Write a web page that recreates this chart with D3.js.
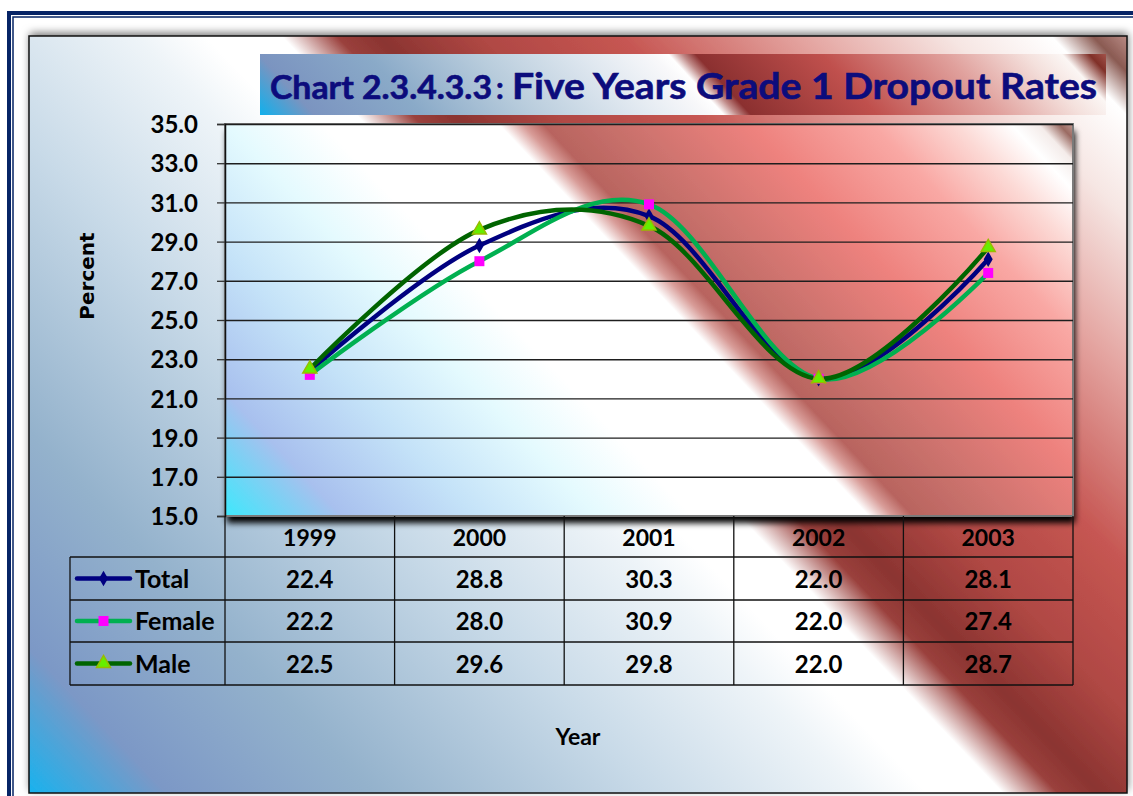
<!DOCTYPE html>
<html>
<head>
<meta charset="utf-8">
<script src="https://cdn.jsdelivr.net/npm/d3@7"></script>
<style>
  html, body { margin: 0; padding: 0; background: #ffffff; overflow: hidden; }
  svg { display: block; }
</style>
</head>
<body>
<svg id="chart" width="1133" height="796"></svg>
<script>
// ---- data ----
const years = ["1999", "2000", "2001", "2002", "2003"];
const totalValues = [22.4, 28.8, 30.3, 22.0, 28.1];
const femaleValues = [22.2, 28.0, 30.9, 22.0, 27.4];
const maleValues = [22.5, 29.6, 29.8, 22.0, 28.7];
const seriesNames = ["Total", "Female", "Male"];
const yTickValues = [15, 17, 19, 21, 23, 25, 27, 29, 31, 33, 35];
const titleMain = "Chart 2.3.4.3.3";
const titleSub = "Five Years Grade 1 Dropout Rates";
const yAxisTitle = "Percent";
const xAxisTitle = "Year";

const series = [
  { name: seriesNames[0], values: totalValues, color: "#000080", symbol: d3.symbolDiamond, size: 70, fill: "#000080", stroke: "none" },
  { name: seriesNames[1], values: femaleValues, color: "#00b050", symbol: d3.symbolSquare, size: 100, fill: "#ff00ff", stroke: "none" },
  { name: seriesNames[2], values: maleValues, color: "#006400", symbol: d3.symbolTriangle, size: 85, fill: "#66ee00", stroke: "#99bb00" }
];

// ---- layout ----
const svg = d3.select("#chart");
const chartBox = { x: 29, y: 36, w: 1098, h: 757 };
const plot = { left: 225, right: 1073, top: 124, bottom: 516 };
const rowY = [516, 557, 600, 642, 685];
const legendLeft = 70;
const titleBox = { x: 260, y: 54, w: 846, h: 61 };

const x = d3.scalePoint().domain(years).range([plot.left, plot.right]).padding(0.5);
const y = d3.scaleLinear().domain([15, 35]).range([plot.bottom, plot.top]);
const colW = x.step();

const defs = svg.append("defs");

function linGrad(id, ax, ay, dx, dy, L, stops) {
  const g = defs.append("linearGradient").attr("id", id)
    .attr("gradientUnits", "userSpaceOnUse")
    .attr("x1", ax).attr("y1", ay)
    .attr("x2", ax + dx * L).attr("y2", ay + dy * L);
  stops.forEach(s => g.append("stop").attr("offset", s[0] / L).attr("stop-color", s[1]));
}

// chart area background gradient
linGrad("bgGrad", chartBox.x, chartBox.y + chartBox.h, 0.724, -0.69, 1317, [
  [0, "#18b2ee"], [100, "#7c98c6"], [250, "#94b2cc"], [450, "#c8dae8"],
  [600, "#eef4f8"], [650, "#ffffff"], [705, "#ffffff"], [745, "#9a403c"],
  [775, "#8b3431"], [850, "#b04844"], [950, "#c65652"], [1080, "#e4a4a0"],
  [1190, "#f6e6e3"], [1262, "#ffffff"], [1292, "#8a5a52"], [1317, "#b88a84"]
]);

// plot area gradient
linGrad("plotGrad", plot.left, plot.bottom, 0.727, -0.687, 885, [
  [0, "#3ee8fc"], [85, "#a8c0ee"], [180, "#c4e2f8"], [270, "#e4fafe"],
  [340, "#ffffff"], [468, "#ffffff"], [485, "#d89c98"], [500, "#b8645f"],
  [550, "#c8706b"], [650, "#ee827e"], [740, "#f9a8a4"], [800, "#fcdad6"],
  [840, "#ffffff"], [860, "#f4ecea"], [875, "#9a6a62"], [885, "#c09890"]
]);

// title box gradient
linGrad("titleGrad", titleBox.x, titleBox.y + titleBox.h, 0.737, -0.676, 664, [
  [0, "#10b0ec"], [40, "#7b94c0"], [120, "#8aaac8"], [200, "#b8ccdc"],
  [280, "#e0e8f0"], [330, "#f8f8fa"], [342, "#ffffff"], [352, "#c08a88"],
  [362, "#8b3030"], [455, "#c0504d"], [545, "#e0a09c"], [605, "#f4e0dc"],
  [632, "#fbf6f4"], [652, "#803028"], [664, "#a05048"]
]);

// shadows
const f1 = defs.append("filter").attr("id", "chartShadow")
  .attr("x", "-5%").attr("y", "-5%").attr("width", "110%").attr("height", "110%");
f1.append("feDropShadow").attr("dx", 1).attr("dy", -3).attr("stdDeviation", 4)
  .attr("flood-color", "#000").attr("flood-opacity", 0.55);

const f2 = defs.append("filter").attr("id", "plotShadow")
  .attr("x", "-5%").attr("y", "-5%").attr("width", "110%").attr("height", "115%");
f2.append("feDropShadow").attr("dx", 2).attr("dy", 7).attr("stdDeviation", 3)
  .attr("flood-color", "#000").attr("flood-opacity", 1);

// page double border
svg.append("rect").attr("x", 9).attr("y", 13).attr("width", 1300).attr("height", 1000)
  .attr("fill", "none").attr("stroke", "#062466").attr("stroke-width", 4);
svg.append("rect").attr("x", 13).attr("y", 17).attr("width", 1300).attr("height", 1000)
  .attr("fill", "none").attr("stroke", "#062466").attr("stroke-width", 1.5);

// chart area
svg.append("rect").attr("x", chartBox.x).attr("y", chartBox.y)
  .attr("width", chartBox.w).attr("height", chartBox.h)
  .attr("fill", "url(#bgGrad)").attr("filter", "url(#chartShadow)");
svg.append("rect").attr("x", chartBox.x).attr("y", chartBox.y)
  .attr("width", chartBox.w).attr("height", chartBox.h)
  .attr("fill", "none").attr("stroke", "#111").attr("stroke-width", 1.5);

// title box
svg.append("rect").attr("x", titleBox.x).attr("y", titleBox.y)
  .attr("width", titleBox.w).attr("height", titleBox.h).attr("fill", "url(#titleGrad)");
const titleText = svg.append("text").attr("y", 99)
  .attr("font-family", "Lato, 'Open Sans', sans-serif").attr("font-weight", "bold")
  .attr("fill", "#0c0c7c").attr("stroke", "#0c0c7c").attr("stroke-width", 0.6);
titleText.append("tspan").attr("x", 270).attr("font-size", 32)
  .attr("textLength", 222).attr("lengthAdjust", "spacingAndGlyphs").text(titleMain);
titleText.append("tspan").attr("x", 496).attr("font-size", 30).text(":");
titleText.append("tspan").attr("x", 512).attr("font-size", 36)
  .attr("textLength", 585).attr("lengthAdjust", "spacingAndGlyphs").text(titleSub);

// plot area
svg.append("rect").attr("x", plot.left).attr("y", plot.top)
  .attr("width", plot.right - plot.left).attr("height", plot.bottom - plot.top)
  .attr("fill", "url(#plotGrad)").attr("filter", "url(#plotShadow)");
svg.append("rect").attr("x", plot.left).attr("y", plot.top)
  .attr("width", plot.right - plot.left).attr("height", plot.bottom - plot.top)
  .attr("fill", "none").attr("stroke", "#7a7a7a").attr("stroke-width", 2);

// gridlines
const grid = svg.append("g").attr("transform", `translate(${plot.left},0)`)
  .call(d3.axisLeft(y).tickValues(yTickValues.slice(1)).tickSize(-(plot.right - plot.left)).tickFormat(""));
grid.select(".domain").remove();
grid.selectAll(".tick line").attr("stroke", "#1e1e1e").attr("stroke-width", 1.4);

// y axis
const yAxis = svg.append("g").attr("transform", `translate(${plot.left},0)`)
  .call(d3.axisLeft(y).tickValues(yTickValues).tickSize(8).tickPadding(19).tickFormat(d3.format(".1f")));
yAxis.select(".domain").attr("stroke", "#111").attr("stroke-width", 1.5);
yAxis.selectAll(".tick line").attr("stroke", "#333").attr("stroke-width", 1.3);
yAxis.selectAll(".tick text").attr("font-family", "Lato, sans-serif").attr("font-weight", "bold")
  .attr("font-size", 24).attr("fill", "#000").attr("dy", "0.36em");

// lines
const line = d3.line()
  .x((d, i) => x(years[i]))
  .y(d => y(d))
  .curve(d3.curveCardinal.tension(0));

const linesG = svg.append("g");
series.forEach(s => {
  linesG.append("path").attr("d", line(s.values))
    .attr("fill", "none").attr("stroke", s.color).attr("stroke-width", 4.5)
    .attr("stroke-linecap", "round").attr("stroke-linejoin", "round");
});
series.forEach(s => {
  linesG.selectAll(null).data(s.values).enter().append("path")
    .attr("d", d3.symbol().type(s.symbol).size(s.size))
    .attr("transform", (d, i) => `translate(${x(years[i])},${y(d)})`)
    .attr("fill", s.fill).attr("stroke", s.stroke).attr("stroke-width", 1.5);
});

// data table
const table = svg.append("g");
const tcol = "#111";
years.forEach((yr, i) => {
  table.append("line").attr("x1", plot.left + (i + 1) * colW).attr("x2", plot.left + (i + 1) * colW)
    .attr("y1", rowY[0]).attr("y2", rowY[4]).attr("stroke", tcol).attr("stroke-width", 1.3);
});
table.append("line").attr("x1", plot.left).attr("x2", plot.left)
  .attr("y1", rowY[0]).attr("y2", rowY[4]).attr("stroke", tcol).attr("stroke-width", 1.3);
table.append("line").attr("x1", legendLeft).attr("x2", legendLeft)
  .attr("y1", rowY[1]).attr("y2", rowY[4]).attr("stroke", tcol).attr("stroke-width", 1.3);
[1, 2, 3, 4].forEach(r => {
  table.append("line").attr("x1", legendLeft).attr("x2", plot.right)
    .attr("y1", rowY[r]).attr("y2", rowY[r]).attr("stroke", tcol).attr("stroke-width", 1.3);
});

const cellFont = { family: "Lato, sans-serif", size: 24 };
table.selectAll(null).data(years).enter().append("text")
  .attr("x", d => x(d)).attr("y", (rowY[0] + rowY[1]) / 2 + 9)
  .attr("text-anchor", "middle").attr("font-family", cellFont.family)
  .attr("font-weight", "bold").attr("font-size", 23).attr("fill", "#000")
  .text(d => d);

series.forEach((s, r) => {
  const cy = (rowY[r + 1] + rowY[r + 2]) / 2;
  table.selectAll(null).data(s.values).enter().append("text")
    .attr("x", (d, i) => x(years[i])).attr("y", cy + 9)
    .attr("text-anchor", "middle").attr("font-family", cellFont.family)
    .attr("font-weight", "bold").attr("font-size", cellFont.size).attr("fill", "#000")
    .text(d => d3.format(".1f")(d));
  table.append("line").attr("x1", 77).attr("x2", 130).attr("y1", cy).attr("y2", cy)
    .attr("stroke", s.color).attr("stroke-width", 4.5).attr("stroke-linecap", "round");
  table.append("path").attr("d", d3.symbol().type(s.symbol).size(s.size)())
    .attr("transform", `translate(103.5,${cy})`)
    .attr("fill", s.fill).attr("stroke", s.stroke).attr("stroke-width", 1.5);
  table.append("text").attr("x", 135).attr("y", cy + 9)
    .attr("font-family", cellFont.family).attr("font-weight", "bold")
    .attr("font-size", 25).attr("fill", "#000").text(s.name);
});

// axis titles
svg.append("text").attr("transform", "translate(94,276) rotate(-90)")
  .attr("text-anchor", "middle").attr("font-family", "'DejaVu Sans', sans-serif")
  .attr("font-weight", "bold").attr("font-size", 20).attr("fill", "#000").text(yAxisTitle);
svg.append("text").attr("x", 578).attr("y", 745)
  .attr("text-anchor", "middle").attr("font-family", "Lato, sans-serif")
  .attr("font-weight", "bold").attr("font-size", 23).attr("fill", "#000").text(xAxisTitle);
</script>
</body>
</html>
